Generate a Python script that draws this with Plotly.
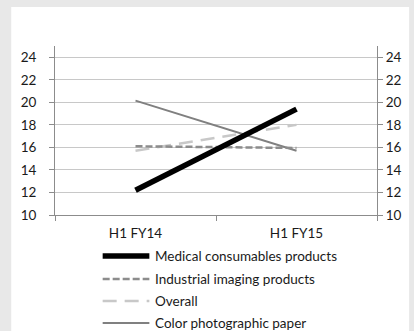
import plotly.graph_objects as go

periods = ["H1 FY14", "H1 FY15"]
series_names = [
    "Medical consumables products",
    "Industrial imaging products",
    "Overall",
    "Color photographic paper",
]
medical = [12.2, 19.4]
industrial = [16.1, 15.95]
overall = [15.7, 18.0]
photo_paper = [20.15, 15.7]
y_ticks = [10, 12, 14, 16, 18, 20, 22, 24]

styles = [
    dict(color="#000000", width=5.5, dash="solid"),
    dict(color="#8c8c8c", width=2.5, dash="7px,3px"),
    dict(color="#c8c8c8", width=2.5, dash="14px,8px"),
    dict(color="#808080", width=2, dash="solid"),
]
values = [medical, industrial, overall, photo_paper]

W, H = 414, 331
L, R, T, B = 55, 28, 46, 116
pw, ph = W - L - R, H - T - B

def px_x(x):
    return (x - L) / pw

def px_y(y):
    return (H - B - y) / ph

fig = go.Figure()
for i in [3, 2, 1, 0]:
    fig.add_trace(go.Scatter(
        x=periods, y=values[i], mode="lines", name=series_names[i],
        line=styles[i], showlegend=False,
    ))
# companion trace so the right-hand scale is drawn
fig.add_trace(go.Scatter(x=periods, y=medical, yaxis="y2", mode="lines",
                         line=dict(width=0), opacity=0, showlegend=False,
                         hoverinfo="skip"))

font = dict(family="Lato, 'Open Sans', sans-serif", size=13.5, color="#1a1a1a")

axis_y = dict(range=[10, 25], tickvals=y_ticks, ticks="outside", ticklen=5,
              tickcolor="#8c8c8c", showline=True, linecolor="#8c8c8c",
              linewidth=1, zeroline=False, tickfont=font, fixedrange=True)

fig.update_layout(
    width=W, height=H,
    margin=dict(l=L, r=R, t=T, b=B),
    paper_bgcolor="#e8e8e8",
    plot_bgcolor="#ffffff",
    showlegend=False,
    xaxis=dict(type="category", range=[-0.5, 1.5], tickson="boundaries",
               ticks="outside", ticklen=5, tickcolor="#8c8c8c",
               showline=True, linecolor="#8c8c8c", showgrid=False,
               tickfont=font, fixedrange=True, ticklabelstandoff=6),
    yaxis=dict(**axis_y, showgrid=True, gridcolor="#c8c8c8", gridwidth=1,
               side="left", ticklabelstandoff=10),
    yaxis2=dict(**axis_y, showgrid=False, overlaying="y", side="right",
                ticklabelstandoff=0),
)

# white chart panel
fig.add_shape(type="rect", xref="paper", yref="paper", layer="below",
              x0=px_x(10), x1=px_x(W + 5), y0=px_y(7), y1=px_y(H + 5),
              fillcolor="#ffffff", line=dict(width=0))

# legend keys and labels
rows = [256, 279, 301, 323]
for i, yy in enumerate(rows):
    fig.add_shape(type="line", xref="paper", yref="paper",
                  x0=px_x(104), x1=px_x(152), y0=px_y(yy), y1=px_y(yy),
                  line=styles[i])
    fig.add_annotation(xref="paper", yref="paper", x=px_x(156), y=px_y(yy),
                       text=series_names[i], showarrow=False, xanchor="left",
                       yanchor="middle", font=font)

fig.write_html("out.html")
